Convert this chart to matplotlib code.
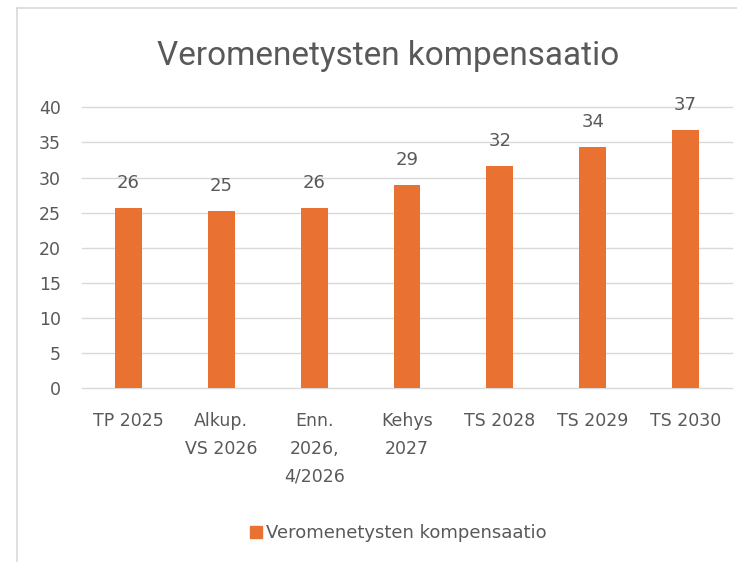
import matplotlib
matplotlib.use("Agg")
import matplotlib.pyplot as plt
from matplotlib.lines import Line2D

categories = ["TP 2025", "Alkup.\nVS 2026", "Enn.\n2026,\n4/2026", "Kehys\n2027", "TS 2028", "TS 2029", "TS 2030"]
values = [25.6, 25.3, 25.6, 29.0, 31.6, 34.3, 36.7]
yticks = [0, 5, 10, 15, 20, 25, 30, 35, 40]
series_name = "Veromenetysten kompensaatio"
title = "Veromenetysten kompensaatio"

W, H = 737, 562
fig = plt.figure(figsize=(W / 100, H / 100), dpi=100)
plt.rcParams['font.family'] = ['DejaVu Sans']
text_col = "#595959"
bar_col = "#E97132"

ax = fig.add_axes([82 / W, 1 - 388.3 / H, (732 - 82) / W, (388.3 - 107.3) / H])
x = list(range(len(categories)))
bars = ax.bar(x, values, width=0.29, color=bar_col, zorder=3)
ax.set_xlim(-0.5, len(categories) - 0.5)
ax.set_ylim(0, 40)
ax.set_yticks(yticks)
ax.set_yticklabels([str(t) for t in yticks])
ax.set_xticks(x)
ax.set_xticklabels(categories, linespacing=1.7, va='top')
ax.grid(axis='y', color="#d9d9d9", linewidth=1.0, zorder=0)
for gl in ax.get_ygridlines():
    gl.set_clip_on(False)
for s in ax.spines.values():
    s.set_visible(False)
ax.tick_params(axis='both', length=0, colors=text_col, labelsize=12.5)
ax.tick_params(axis='x', pad=17)
ax.tick_params(axis='y', pad=15)

for xi, v in zip(x, values):
    ax.annotate(f"{round(v):d}", (xi, v), xytext=(0, 18), textcoords='offset points',
                ha='center', va='center', fontsize=13, color=text_col, clip_on=False)

fig.text(388 / W, 1 - 56 / H, title, ha='center', va='center', fontsize=24,
         color=text_col, family=['Roboto', 'DejaVu Sans'])

handle = Line2D([], [], marker='s', linestyle='none', markersize=9, color=bar_col)
fig.legend([handle], [series_name], loc='center', bbox_to_anchor=(397 / W, 1 - 533 / H),
           frameon=False, fontsize=13, labelcolor=text_col, handletextpad=0.05,
           handlelength=1.0)

# chart border (left and top visible)
fig.add_artist(Line2D([17 / W, 17 / W], [0, 1 - 8 / H], transform=fig.transFigure, color="#d9d9d9", lw=1.2))
fig.add_artist(Line2D([17 / W, 1], [1 - 8 / H, 1 - 8 / H], transform=fig.transFigure, color="#d9d9d9", lw=1.2))

fig.savefig("out.png", dpi=100)
